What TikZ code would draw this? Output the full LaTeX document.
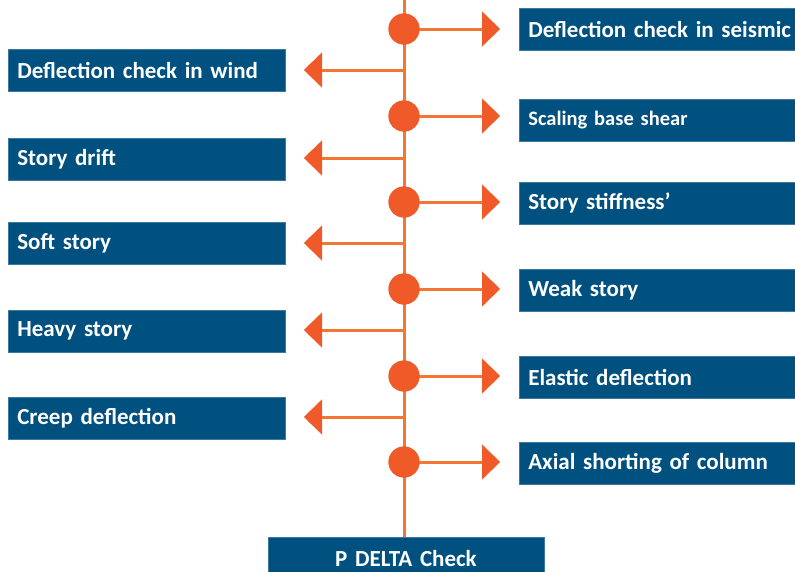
\documentclass[tikz,border=0pt]{standalone}
\usepackage{fontspec}
\setmainfont{Carlito}
\usetikzlibrary{arrows.meta}

\definecolor{boxblue}{RGB}{0,80,128}
\definecolor{boxedge}{RGB}{60,120,160}
\definecolor{dotorange}{RGB}{240,90,40}
\definecolor{lineorange}{RGB}{244,118,52}

\tikzset{
  itembox/.style={draw=boxedge, line width=0.6pt, fill=boxblue, text=white,
    anchor=north west, inner xsep=9pt, inner ysep=0pt, align=left,
    minimum height=42pt, font=\bfseries\fontsize{23}{26}\selectfont},
  dot/.style={circle, fill=dotorange, minimum size=31pt, inner sep=0pt},
  spine/.style={draw=lineorange, line width=3pt},
  branch/.style={draw=lineorange, line width=3pt,
    -{Triangle[width=35pt,length=18pt,color=dotorange,line width=0.1pt]}},
}

\begin{document}
\begin{tikzpicture}[x=1pt,y=-1pt]
\clip (0,0) rectangle (795,571);
\fill[white] (0,0) rectangle (795,571);

% base box
\node[itembox, anchor=north, align=center, text width=258pt] (pd) at (406,537) {P DELTA Check};

% trunk
\coordinate (top) at (404,0);
\draw[spine] (top) -- (pd.north -| top);

% right-hand items (they run past the right edge)
\node[itembox, text width=290pt] (r1) at (519,8)   {Deflection check in seismic};
\node[itembox, text width=290pt, font=\bfseries\fontsize{20.5}{24}\selectfont] (r2) at (519,99) {Scaling base shear};
\node[itembox, text width=290pt] (r3) at (519,182) {Story stiffness’};
\node[itembox, text width=290pt] (r4) at (519,269) {Weak story};
\node[itembox, text width=290pt] (r5) at (519,356) {Elastic deflection};
\node[itembox, text width=290pt] (r6) at (519,442) {Axial shorting of column};

% left-hand items
\node[itembox, text width=259pt] (l1) at (8,49)  {Deflection check in wind};
\node[itembox, text width=259pt] (l2) at (8,138) {Story drift};
\node[itembox, text width=259pt] (l3) at (8,222) {Soft story};
\node[itembox, text width=259pt] (l4) at (8,310) {Heavy story};
\node[itembox, text width=259pt] (l5) at (8,397) {Creep deflection};

% junction dots with arrows to the right
\foreach \i/\y in {1/29,2/116,3/202,4/289,5/376,6/462}{
  \node[dot] (c\i) at (404,\y) {};
  \coordinate (rt\i) at (500,\y);
  \draw[branch] (c\i.center) -- (rt\i);
  \fill[dotorange] (c\i) circle (15.5pt);
}

% branches to the left
\foreach \i/\y in {1/70,2/158,3/243,4/330,5/417}{
  \coordinate (j\i) at (404,\y);
  \coordinate (lt\i) at (304,\y);
  \draw[branch] (j\i) -- (lt\i);
}
\end{tikzpicture}
\end{document}
